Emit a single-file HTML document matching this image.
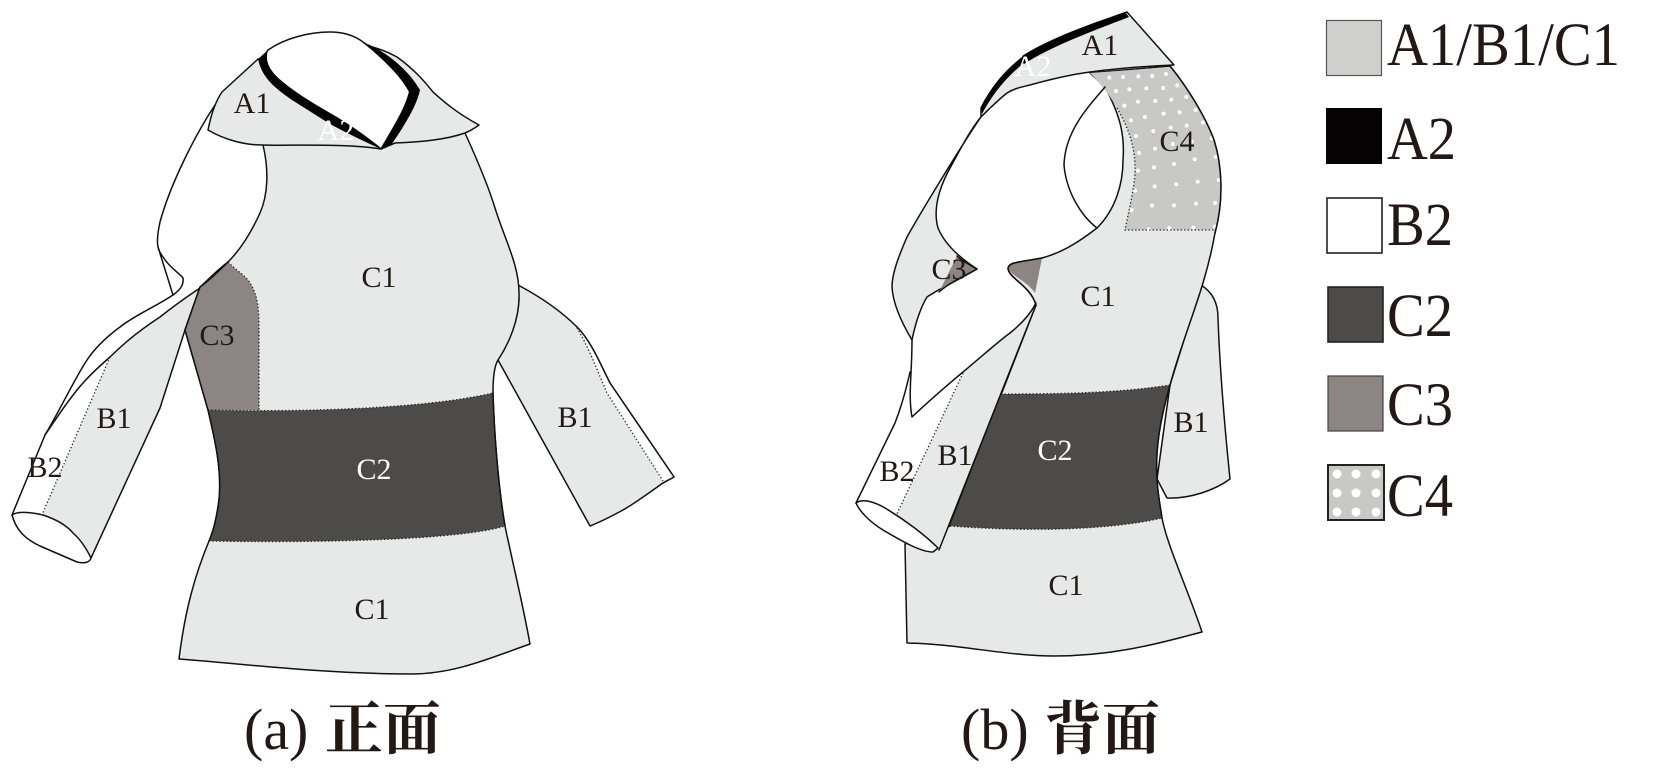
<!DOCTYPE html>
<html><head><meta charset="utf-8"><style>
html,body{margin:0;padding:0;background:#fff}
svg{display:block}
path{stroke-linejoin:round;stroke-linecap:round}
.s{fill:none;stroke:#111;stroke-width:1.5}
.f{fill:#e7e9e8;stroke:#111;stroke-width:1.5}
.wf{fill:#fff;stroke:#111;stroke-width:1.5}
.n{stroke:none}
.d{fill:none;stroke:#222;stroke-width:1.3;stroke-dasharray:1.3 2.2;stroke-linecap:butt}
text{font-family:"Liberation Serif","Noto Serif CJK SC",serif;fill:#231815}
.l{font-size:30px;text-anchor:middle}
.w{fill:#fff}
.g{font-size:61px}
.c{font-size:58px}
.z{font-family:"Noto Serif CJK SC","Liberation Serif",serif;font-weight:700;font-size:58px}
</style></head><body>
<svg width="1654" height="778" viewBox="0 0 1654 778" xmlns="http://www.w3.org/2000/svg">
<rect width="1654" height="778" fill="#fff"/>

<!-- FRONT: right sleeve -->
<path class="f" d="M518,285 C535,294 558,308 577,327 C592,342 602,368 610,383 L674,477 L663,483 C650,492 640,500 623,510 C612,516 600,522 590,526 L498,360 L519,300 Z"/>
<path class="n" fill="#fff" d="M577,328 C590,345 598,372 607,393 L663,481 L674,477 L610,383 C602,368 592,342 577,327 Z"/>
<path class="s" d="M577,327 C592,342 602,368 610,383 L674,477 L663,483"/>
<path class="d" d="M577,328 C588,346 598,372 607,393 L663,481"/>
<!-- FRONT: lining outlines -->
<path class="s" d="M215,105 C195,135 170,185 160,222 C155,245 158,250 163,257 C170,268 178,272 183,278 C184,285 180,290 173,295 C155,307 135,315 120,327 C105,338 95,348 87,360 C75,378 60,410 45,435 L12,515"/>
<path class="s" d="M158,247 L173,295"/>
<!-- FRONT: left sleeve -->
<path class="n" fill="#e7e9e8" d="M200,288 C185,298 175,305 160,317 C140,330 125,342 110,357 L42,515 C60,522 82,535 91,558 L160,408 L185,330 Z"/>
<path class="s" d="M200,288 C185,298 175,305 160,317 C140,330 125,342 110,357 C95,370 85,380 77,390 C65,405 55,420 45,435"/>
<path class="d" d="M110,357 L42,515"/>
<path class="s" d="M91,558 L160,408 L185,330 L200,288"/>
<path class="wf" d="M12,515 C17,511 30,512 43,515 C58,520 68,527 73,533 C82,541 87,550 91,558 C90,562 85,564 77,562 L40,546 C25,539 16,530 12,515 Z"/>
<!-- FRONT: body -->
<path class="f" d="M263,145 C269,170 268,195 260,213 C250,235 240,250 228,262 C215,272 208,280 200,287 L185,330 L208,410 C215,440 222,470 219,500 C217,515 214,530 209,541 C195,575 185,610 179,659 C225,662 320,674 411,674 C455,674 490,658 530,644 C522,600 512,560 505,526 C498,485 494,430 493,392 C493,375 495,365 498,360 C508,345 520,320 519,293 C519,265 505,240 495,208 C488,185 475,155 465,133 L465,125 L263,125 Z"/>
<!-- C3 -->
<path class="n" fill="#8d8583" d="M228,262 C238,272 246,276 250,283 C258,295 259,310 259,330 L259,410 L208,410 L185,330 L200,287 C210,280 220,270 228,262 Z"/>
<path class="d" d="M228,262 C238,272 246,276 250,283 C258,295 259,310 259,330 L259,410"/>
<path class="s" d="M228,262 C220,270 210,280 200,287 L185,330 L208,410"/>
<!-- C2 -->
<path class="n" fill="#4c4b4a" d="M208,410 C290,412 420,410 493,393 C494,430 498,485 505,526 C460,540 320,543 209,541 C214,530 217,515 219,500 C222,470 215,440 208,410 Z"/>
<path class="d" d="M208,410 C290,412 420,410 493,393"/>
<path class="d" d="M209,541 C320,543 460,540 505,526"/>
<path class="s" d="M208,410 C215,440 222,470 219,500 C217,515 214,530 209,541"/>
<path class="s" d="M493,393 C494,430 498,485 505,526"/>
<!-- collar -->
<path class="f" d="M258,59 L222,92 C215,102 211,115 208,130 C225,140 245,145 262,145 C290,146 345,143 381,149 L395,143 C420,142 445,140 465,133 C470,131 475,128 479,125 C455,112 442,100 433,92 C425,82 415,70 397,57 C388,52 380,49 372,47 Z"/>
<path class="wf" d="M268,50 C285,38 310,32 330,32 C345,32 355,36 363,42 C380,55 400,75 410,90 C408,105 392,130 381,149 C360,130 320,115 290,96 C270,80 262,70 263,58 Z"/>
<path fill="#060304" d="M268,50 C265,60 268,70 283,82 C300,96 320,107 337,117 C355,128 372,140 381,149 C365,142 345,132 330,124 L292,100 C275,88 262,78 258,59 Z"/>
<path fill="#060304" d="M381,149 C392,132 402,115 409,92 C400,75 380,55 363,42 L372,46 C390,55 410,72 420,90 C417,105 405,125 391,145 Z"/>

<!-- BACK: sleeve behind -->
<path class="f" d="M1201,285 C1212,292 1218,302 1218,318 C1220,375 1225,430 1230,479 C1215,490 1190,499 1167,498 L1157,479 L1170,385 Z"/>
<!-- BACK: body -->
<path class="f" d="M1090,73 L1170,66 C1188,88 1206,118 1214,140 C1222,165 1224,200 1215,233 C1205,290 1185,330 1170,385 C1160,420 1155,450 1157,480 C1158,495 1160,505 1162,518 C1167,545 1188,590 1202,632 C1170,640 1120,656 1054,656 C1005,656 960,644 907,643 L905,544 L950,526 L1036,305 C1030,285 1008,278 1008,268 C1010,262 1015,263 1042,258 C1060,253 1075,245 1097,228 C1115,210 1123,185 1123,160 C1125,135 1120,115 1105,87 Z"/>
<!-- C4 -->
<path class="n" fill="#c8c8c6" d="M1090,73 L1170,67 C1188,88 1206,118 1214,140 C1222,165 1224,200 1215,230 L1125,230 C1130,205 1136,180 1135,167 C1135,150 1130,130 1118,110 C1112,98 1100,83 1090,73 Z"/>
<g transform="translate(1080,50) scale(0.3333)" fill="#fff">
<circle cx="88" cy="83" r="6"/><circle cx="129" cy="81" r="6"/><circle cx="175" cy="79" r="6"/><circle cx="217" cy="78" r="6"/><circle cx="258" cy="72" r="6"/>
<circle cx="108" cy="123" r="6"/><circle cx="148" cy="118" r="6"/><circle cx="199" cy="115" r="6"/><circle cx="250" cy="114" r="6"/><circle cx="292" cy="106" r="6"/>
<circle cx="133" cy="167" r="6"/><circle cx="174" cy="155" r="6"/><circle cx="226" cy="153" r="6"/><circle cx="274" cy="149" r="6"/><circle cx="319" cy="141" r="6"/>
<circle cx="153" cy="211" r="6"/><circle cx="195" cy="201" r="6"/><circle cx="251" cy="191" r="6"/><circle cx="299" cy="187" r="6"/><circle cx="347" cy="180" r="6"/>
<circle cx="168" cy="258" r="6"/><circle cx="220" cy="243" r="6"/><circle cx="272" cy="233" r="6"/><circle cx="320" cy="227" r="6"/><circle cx="369" cy="217" r="6"/>
<circle cx="177" cy="309" r="6"/><circle cx="225" cy="296" r="6"/><circle cx="278" cy="282" r="6"/><circle cx="335" cy="275" r="6"/><circle cx="395" cy="265" r="6"/>
<circle cx="174" cy="362" r="6"/><circle cx="222" cy="352" r="6"/><circle cx="282" cy="342" r="6"/><circle cx="344" cy="328" r="6"/><circle cx="407" cy="321" r="6"/>
<circle cx="165" cy="422" r="6"/><circle cx="224" cy="409" r="6"/><circle cx="289" cy="403" r="6"/><circle cx="353" cy="395" r="6"/><circle cx="416" cy="390" r="6"/>
<circle cx="155" cy="480" r="6"/><circle cx="216" cy="467" r="6"/><circle cx="282" cy="466" r="6"/><circle cx="348" cy="461" r="6"/><circle cx="405" cy="459" r="6"/>
<circle cx="206" cy="538" r="6"/><circle cx="268" cy="534" r="6"/><circle cx="340" cy="533" r="6"/><circle cx="405" cy="530" r="6"/>
</g>
<path class="d" d="M1117,108 C1130,130 1135,150 1135,167 C1136,180 1130,205 1125,230 L1215,230"/>
<path class="s" d="M1170,66 C1188,88 1206,118 1214,140 C1222,165 1224,200 1215,233"/>
<!-- C3 right -->
<path class="n" fill="#8d8583" d="M1008,268 C1010,262 1015,263 1042,258 L1035,293 C1028,282 1010,275 1008,268 Z"/>
<path class="s" d="M1036,305 C1030,285 1008,278 1008,268 C1010,262 1015,263 1042,258"/>
<!-- C2 back -->
<path class="n" fill="#4c4b4a" d="M1001,394 C1060,394 1120,393 1170,385 C1160,420 1155,450 1157,480 C1158,495 1160,505 1162,518 C1110,530 1030,532 950,526 Z"/>
<path class="d" d="M1001,394 C1060,394 1120,393 1170,385"/>
<path class="d" d="M950,526 C1030,532 1110,530 1162,518"/>
<path class="s" d="M1170,385 C1160,420 1155,450 1157,480 C1158,495 1160,505 1162,518"/>
<!-- inner arc -->
<path class="s" d="M1105,87 C1090,105 1065,130 1064,165 C1066,190 1080,215 1097,228"/>
<!-- left panel -->
<path class="f" d="M981,117 C965,140 925,205 907,237 C897,260 892,275 892,287 C893,305 903,325 912,340 C916,320 922,305 927,297 C940,288 955,282 977,269 C960,258 945,245 938,228 C933,210 938,190 950,168 C960,150 970,130 981,117 Z"/>
<path class="n" fill="#8d8583" d="M957,256 C962,261 970,265 977,269 C965,276 950,282 939,292 Z"/>
<path class="s" d="M957,256 C962,261 970,265 977,269 C965,276 950,282 939,292"/>
<!-- sleeve back view -->
<path class="n" fill="#fff" d="M912,417 L963,373 L895,518 L856,503 L895,423 C900,410 905,395 909,372 Z"/>
<path class="n" fill="#e7e9e8" d="M963,373 C980,358 1000,340 1010,333 C1020,325 1030,315 1036,305 L939,550 L895,518 Z"/>
<path class="s" d="M912,340 C912,375 908,395 912,417 C930,400 945,387 963,372 C980,358 1000,340 1010,333 C1020,325 1030,315 1036,303"/>
<path class="s" d="M910,372 C905,395 900,410 895,423 L856,503"/>
<path class="d" d="M963,373 L895,518"/>
<path class="s" d="M1036,305 L939,550"/>
<path class="wf" d="M856,503 C862,498 875,502 885,508 C905,520 925,535 938,548 L933,552 C920,552 900,540 883,530 C870,522 860,512 856,503 Z"/>
<!-- collar back -->
<path class="f" d="M981,108 L981,117 C990,108 998,100 1007,93 C1015,88 1022,87 1030,85 C1055,78 1075,74 1090,72 C1120,68 1150,66 1174,65 L1127,12 C1090,26 1055,38 1023,58 C1005,70 990,90 981,108 Z"/>
<path fill="#060304" d="M1022,56 C1050,38 1090,24 1125,12 L1129,17 C1090,32 1050,47 1024,64 Z"/>
<path fill="#060304" d="M981,108 C990,88 1005,70 1022,57 L1025,62 C1008,76 995,90 982,114 Z"/>

<!-- labels front -->
<text class="l" x="252" y="113">A1</text>
<text class="l w" x="336" y="140">A2</text>
<text class="l" x="379" y="287">C1</text>
<text class="l" x="217" y="345">C3</text>
<text class="l" x="114" y="428">B1</text>
<text class="l" x="45" y="477">B2</text>
<text class="l w" x="374" y="479">C2</text>
<text class="l" x="575" y="427">B1</text>
<text class="l" x="372" y="619">C1</text>
<!-- labels back -->
<text class="l" x="1100" y="55">A1</text>
<text class="l w" x="1033" y="76">A2</text>
<text class="l" x="1177" y="151">C4</text>
<text class="l" x="949" y="279">C3</text>
<text class="l" x="1098" y="306">C1</text>
<text class="l" x="1191" y="432">B1</text>
<text class="l w" x="1055" y="460">C2</text>
<text class="l" x="955" y="465">B1</text>
<text class="l" x="897" y="481">B2</text>
<text class="l" x="1066" y="595">C1</text>
<!-- captions -->
<text class="c" x="244" y="749">(a)</text>
<text class="z" x="325" y="749">正面</text>
<text class="c" x="961" y="749">(b)</text>
<text class="z" x="1044" y="749">背面</text>

<!-- legend -->
<rect x="1332.5" y="20.5" width="55" height="55" fill="#cfcfcd" stroke="#555" stroke-width="1.2" transform="translate(-6,0)"/>
<rect x="1326" y="108" width="56" height="56" fill="#060304"/>
<rect x="1327" y="198" width="55" height="55" fill="#fff" stroke="#222" stroke-width="1.6"/>
<rect x="1328" y="287" width="55" height="55" fill="#4c4b4a" stroke="#222" stroke-width="1.6"/>
<rect x="1328" y="376" width="55" height="55" fill="#8d8583" stroke="#444" stroke-width="1.2"/>
<rect x="1328" y="465" width="56" height="55" fill="#c8c8c6" stroke="#222" stroke-width="2"/>
<g fill="#fff">
<circle cx="1337" cy="474" r="4.5"/><circle cx="1356" cy="474" r="4.5"/><circle cx="1376" cy="474" r="4.5"/>
<circle cx="1337" cy="493" r="4.5"/><circle cx="1356" cy="493" r="4.5"/><circle cx="1376" cy="493" r="4.5"/>
<circle cx="1337" cy="512" r="4.5"/><circle cx="1356" cy="512" r="4.5"/><circle cx="1376" cy="512" r="4.5"/>
</g>
<text class="g" x="1387" y="65" textLength="233" lengthAdjust="spacingAndGlyphs">A1/B1/C1</text>
<text class="g" x="1387" y="159" textLength="69" lengthAdjust="spacingAndGlyphs">A2</text>
<text class="g" x="1387" y="245" textLength="66" lengthAdjust="spacingAndGlyphs">B2</text>
<text class="g" x="1387" y="336" textLength="66" lengthAdjust="spacingAndGlyphs">C2</text>
<text class="g" x="1387" y="425" textLength="66" lengthAdjust="spacingAndGlyphs">C3</text>
<text class="g" x="1387" y="516" textLength="66" lengthAdjust="spacingAndGlyphs">C4</text>
</svg>
</body></html>
